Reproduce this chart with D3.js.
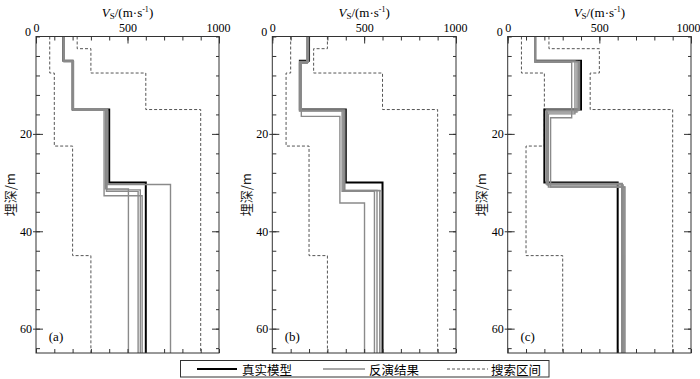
<!DOCTYPE html>
<html><head><meta charset="utf-8">
<script src="https://cdn.jsdelivr.net/npm/d3@7"></script>
<style>
body{margin:0;background:#fff;}
svg{display:block;}
</style></head>
<body>
<svg id="chart" width="700" height="379"></svg>
<script>
// ---------------- data ----------------
const panelLabels = ["(a)", "(b)", "(c)"];
const xTickLabels = [0, 500, 1000];
const yTickLabels = [0, 20, 40, 60];
const maxDepth = 65;

// true models: layer velocities (m/s) and layer boundary depths (m)
const trueVelA = [150, 200, 400, 600];
const trueVelB = [200, 150, 400, 600];
const trueVelC = [150, 400, 200, 600];
const trueDepths = [5, 15, 30];

// search interval bounds
const lowVelA = [75, 100, 200, 300];
const lowVelB = [100, 75, 200, 300];
const lowVelC = [75, 200, 100, 300];
const lowDepths = [7.5, 22.5, 45];
const highVelA = [225, 300, 600, 900];
const highVelB = [300, 225, 600, 900];
const highVelC = [225, 500, 450, 900];
const highDepths = [2.5, 7.5, 15];

// inversion results (velocities, boundary depths)
const invVelA = [[152, 202, 392, 735], [150, 204, 380, 505], [153, 201, 385, 558], [151, 203, 372, 580], [152, 205, 388, 570]];
const invDepA = [[5.1, 15, 30.4], [5.0, 15.1, 31.3], [5.2, 14.9, 31.8], [5.0, 15, 32.7], [5.1, 15.1, 31.5]];
const invVelB = [[195, 152, 392, 585], [198, 150, 386, 570], [190, 148, 380, 556], [188, 158, 368, 502], [196, 151, 395, 594]];
const invDepB = [[5.3, 15.2, 31.6], [5.1, 15.2, 31.6], [5.5, 15.3, 31.8], [5.4, 16.4, 34.2], [5.2, 15.1, 31.7]];
const invVelC = [[150, 385, 213, 625], [152, 367, 222, 640], [148, 349, 234, 635], [151, 378, 216, 630], [150, 392, 210, 622]];
const invDepC = [[5.2, 15.2, 30.2], [5.0, 15.9, 30.9], [5.3, 16.7, 30.9], [5.1, 15.5, 30.5], [5.1, 15.1, 30.3]];

const legendLabels = ["真实模型", "反演结果", "搜索区间"];

// ---------------- layout ----------------
const panels = [
  {left: 36, right: 219, label: panelLabels[0], trueV: trueVelA, lowV: lowVelA, highV: highVelA, invV: invVelA, invD: invDepA},
  {left: 272.3, right: 456, label: panelLabels[1], trueV: trueVelB, lowV: lowVelB, highV: highVelB, invV: invVelB, invD: invDepB},
  {left: 507.7, right: 691, label: panelLabels[2], trueV: trueVelC, lowV: lowVelC, highV: highVelC, invV: invVelC, invD: invDepC}
];
const plotTop = 36.5, plotBottom = 353;
const serif = "'Liberation Serif','Times New Roman',serif";
const cjk = "'Noto Sans CJK SC','Noto Sans',sans-serif";
const axisColor = "#333";

const svg = d3.select("#chart");

function stepPoints(vel, deps) {
  const pts = [];
  let d0 = 0;
  vel.forEach((v, i) => {
    const d1 = i < deps.length ? deps[i] : maxDepth;
    pts.push([v, d0]);
    pts.push([v, d1]);
    d0 = d1;
  });
  return pts;
}

panels.forEach((p, pi) => {
  const x = d3.scaleLinear().domain([0, 1000]).range([p.left, p.right]);
  const y = d3.scaleLinear().domain([0, maxDepth]).range([plotTop, plotBottom]);
  const g = svg.append("g");
  const line = d3.line().x(d => x(d[0])).y(d => y(d[1]));

  const clipId = "clip" + p.label.replace(/[()]/g, "");
  g.append("clipPath").attr("id", clipId).append("rect")
    .attr("x", p.left).attr("y", plotTop).attr("width", p.right - p.left).attr("height", plotBottom - plotTop);
  const plot = g.append("g").attr("clip-path", `url(#${clipId})`);

  // search bounds
  [[p.lowV, lowDepths], [p.highV, highDepths]].forEach(([v, d]) => {
    plot.append("path").attr("d", line(stepPoints(v, d)))
      .attr("fill", "none").attr("stroke", "#555").attr("stroke-width", 1)
      .attr("stroke-dasharray", "3,2");
  });
  // true model
  plot.append("path").attr("d", line(stepPoints(p.trueV, trueDepths)))
    .attr("fill", "none").attr("stroke", "#000").attr("stroke-width", 2);
  // inversions
  p.invV.forEach((v, i) => {
    plot.append("path").attr("d", line(stepPoints(v, p.invD[i])))
      .attr("fill", "none").attr("stroke", "#8a8a8a").attr("stroke-width", 1.4);
  });

  // frame
  g.append("rect").attr("x", p.left).attr("y", plotTop)
    .attr("width", p.right - p.left).attr("height", plotBottom - plotTop)
    .attr("fill", "none").attr("stroke", axisColor).attr("stroke-width", 1);

  const minorX = d3.range(0, 1001, 100);
  const minorY = d3.range(0, maxDepth + 0.1, 4);

  function styleAxis(sel) {
    sel.select(".domain").remove();
    sel.selectAll("line").attr("stroke", axisColor);
    sel.selectAll("text").attr("font-family", serif).attr("font-size", 12).attr("fill", "#000");
  }

  // top axis
  g.append("g").attr("transform", `translate(0,${plotTop})`)
    .call(d3.axisTop(x).tickValues(minorX).tickSize(-4).tickFormat(""))
    .call(styleAxis);
  const topAx = g.append("g").attr("transform", `translate(0,${plotTop})`)
    .call(d3.axisTop(x).tickValues(xTickLabels).tickSize(-7).tickPadding(5).tickFormat(d3.format("d")))
    .call(styleAxis);
  topAx.selectAll("text").filter(d => d === 1000).attr("dx", pi === 2 ? -3 : -1);
  // bottom axis
  g.append("g").attr("transform", `translate(0,${plotBottom})`)
    .call(d3.axisBottom(x).tickValues(minorX).tickSize(-4).tickFormat(""))
    .call(styleAxis);
  // left axis
  g.append("g").attr("transform", `translate(${p.left},0)`)
    .call(d3.axisLeft(y).tickValues(minorY).tickSize(-4).tickFormat(""))
    .call(styleAxis);
  g.append("g").attr("transform", `translate(${p.left},0)`)
    .call(d3.axisLeft(y).tickValues(yTickLabels.slice(1)).tickSize(-7).tickFormat(""))
    .call(styleAxis);
  g.append("g").attr("transform", `translate(${p.left},0)`)
    .call(d3.axisLeft(y).tickValues(yTickLabels.slice(1)).tickSize(3).tickPadding(1).tickFormat(d3.format("d")))
    .call(styleAxis);
  g.append("text").attr("x", p.left - 5).attr("y", y(0) - 3)
    .attr("text-anchor", "end").attr("dominant-baseline", "middle")
    .attr("font-family", serif).attr("font-size", 12).text(yTickLabels[0]);
  // right axis
  g.append("g").attr("transform", `translate(${p.right},0)`)
    .call(d3.axisRight(y).tickValues(minorY).tickSize(-3).tickFormat(""))
    .call(styleAxis);
  g.append("g").attr("transform", `translate(${p.right},0)`)
    .call(d3.axisRight(y).tickValues(yTickLabels.slice(1)).tickSize(-7).tickFormat(""))
    .call(styleAxis);

  // titles
  const tt = g.append("text").attr("x", (p.left + p.right) / 2).attr("y", 17)
    .attr("text-anchor", "middle").attr("font-family", serif).attr("font-size", 13);
  tt.append("tspan").attr("font-style", "italic").text("V");
  tt.append("tspan").attr("font-size", 9).attr("dy", 2).text("S");
  tt.append("tspan").attr("dy", -2).text("/(m·s");
  tt.append("tspan").attr("font-size", 8).attr("dy", -5).text("-1");
  tt.append("tspan").attr("dy", 5).text(")");

  g.append("text").attr("transform", `translate(${p.left - 25},${(plotTop + plotBottom) / 2}) rotate(-90)`)
    .attr("text-anchor", "middle").attr("dominant-baseline", "middle")
    .attr("font-family", cjk).attr("font-size", 13).attr("fill", "#222").text("埋深/m");

  g.append("text").attr("x", p.left + 20).attr("y", 338)
    .attr("text-anchor", "middle").attr("dominant-baseline", "middle")
    .attr("font-family", serif).attr("font-size", 13).text(p.label);
});

// legend
const lg = svg.append("g");
lg.append("rect").attr("x", 180.5).attr("y", 360.5).attr("width", 368.5).attr("height", 16.5)
  .attr("fill", "#fff").attr("stroke", axisColor).attr("stroke-width", 1);
const legendItems = [
  {x1: 197, x2: 237, tx: 242, stroke: "#000", w: 2, dash: null},
  {x1: 323, x2: 365, tx: 369, stroke: "#8a8a8a", w: 1.4, dash: null},
  {x1: 447, x2: 488, tx: 491, stroke: "#555", w: 1, dash: "3,2"}
];
legendItems.forEach((it, i) => {
  lg.append("line").attr("x1", it.x1).attr("x2", it.x2).attr("y1", 369).attr("y2", 369)
    .attr("stroke", it.stroke).attr("stroke-width", it.w).attr("stroke-dasharray", it.dash);
  lg.append("text").attr("x", it.tx).attr("y", 369).attr("dominant-baseline", "central")
    .attr("font-family", cjk).attr("font-size", 12.5).text(legendLabels[i]);
});
</script>
</body></html>
